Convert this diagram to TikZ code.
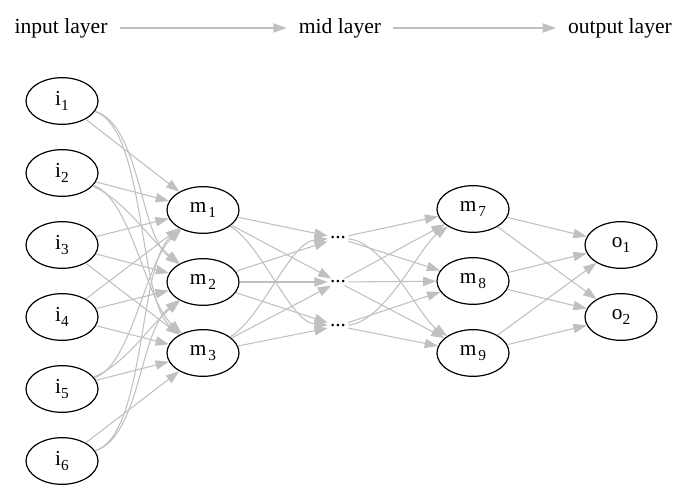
\documentclass[tikz,border=0pt]{standalone}
\usepackage{fontspec}
\setmainfont{Liberation Serif}
\usetikzlibrary{arrows.meta,shapes.geometric}
\definecolor{edgegray}{RGB}{192,192,192}
\newcommand{\lsub}[1]{\raisebox{-0.5ex}{\fontsize{11.5}{13}\selectfont #1}}
\begin{document}
\begin{tikzpicture}[x=0.75pt,y=-0.75pt,
  neuron/.style={draw,ellipse,line width=0.9pt,minimum width=54pt,minimum height=35pt,inner sep=0pt,font=\fontsize{16}{19}\selectfont},
  dotsnode/.style={inner sep=1.5pt,font=\fontsize{16}{19}\selectfont},
  layerlabel/.style={inner xsep=9pt,inner ysep=2pt,font=\fontsize{16.2}{19}\selectfont},
  conn/.style={draw=edgegray,line width=0.8pt,-{Triangle[length=10pt,width=7pt]}}]
\useasboundingbox (0,0) rectangle (689,491);
% top labels
\node[layerlabel] (lin) at (61,28) {input layer};
\node[layerlabel] (lmid) at (340,28) {mid layer};
\node[layerlabel] (lout) at (620,28) {output layer};
\draw[conn] (lin) -- (lmid);
\draw[conn] (lmid) -- (lout);
% nodes
\node[neuron] (i1) at (62,101) {i\lsub{1}};
\node[neuron] (i2) at (62,173) {i\lsub{2}};
\node[neuron] (i3) at (62,245) {i\lsub{3}};
\node[neuron] (i4) at (62,317) {i\lsub{4}};
\node[neuron] (i5) at (62,389) {i\lsub{5}};
\node[neuron] (i6) at (62,461) {i\lsub{6}};
\node[neuron] (m1) at (203,210) {m\kern1.5pt\lsub{1}};
\node[neuron] (m2) at (203,282) {m\kern1.5pt\lsub{2}};
\node[neuron] (m3) at (203,353) {m\kern1.5pt\lsub{3}};
\node[dotsnode] (d1) at (338,238) {...};
\node[dotsnode] (d2) at (338,282) {...};
\node[dotsnode] (d3) at (338,326) {...};
\node[neuron] (m7) at (473,209) {m\kern1.5pt\lsub{7}};
\node[neuron] (m8) at (473,281) {m\kern1.5pt\lsub{8}};
\node[neuron] (m9) at (473,353) {m\kern1.5pt\lsub{9}};
\node[neuron] (o1) at (621,245) {o\lsub{1}};
\node[neuron] (o2) at (621,317) {o\lsub{2}};
% input -> m straight
\foreach \a/\b in {i1/m1,i2/m1,i3/m1,i3/m2,i3/m3,i4/m1,i4/m2,i4/m3,i5/m3,i6/m3}
  \draw[conn] (\a) -- (\b);
% input -> m curved
\draw[conn] (i1) .. controls (140,125) and (140,235) .. (m2);
\draw[conn] (i1) .. controls (146,128) and (138,300) .. (m3);
\draw[conn] (i2) .. controls (125,200) and (150,240) .. (m2);
\draw[conn] (i2) .. controls (132,200) and (145,300) .. (m3);
\draw[conn] (i5) .. controls (125,365) and (150,325) .. (m2);
\draw[conn] (i5) .. controls (132,365) and (145,262) .. (m1);
\draw[conn] (i6) .. controls (146,435) and (138,264) .. (m1);
\draw[conn] (i6) .. controls (140,437) and (140,330) .. (m2);
% m -> dots
\foreach \a/\b in {m1/d1,m1/d2,m2/d1,m2/d2,m2/d3,m3/d2,m3/d3}
  \draw[conn] (\a) -- (\b);
\draw[conn] (m1) .. controls (262,245) and (290,322) .. (d3);
\draw[conn] (m3) .. controls (262,318) and (290,242) .. (d1);
% dots -> m
\foreach \a/\b in {d1/m7,d1/m8,d2/m7,d2/m8,d2/m9,d3/m8,d3/m9}
  \draw[conn] (\a) -- (\b);
\draw[conn] (d1) .. controls (385,242) and (420,318) .. (m9);
\draw[conn] (d3) .. controls (385,322) and (420,246) .. (m7);
% m -> output
\foreach \a/\b in {m7/o1,m7/o2,m8/o1,m8/o2,m9/o1,m9/o2}
  \draw[conn] (\a) -- (\b);
\end{tikzpicture}
\end{document}
